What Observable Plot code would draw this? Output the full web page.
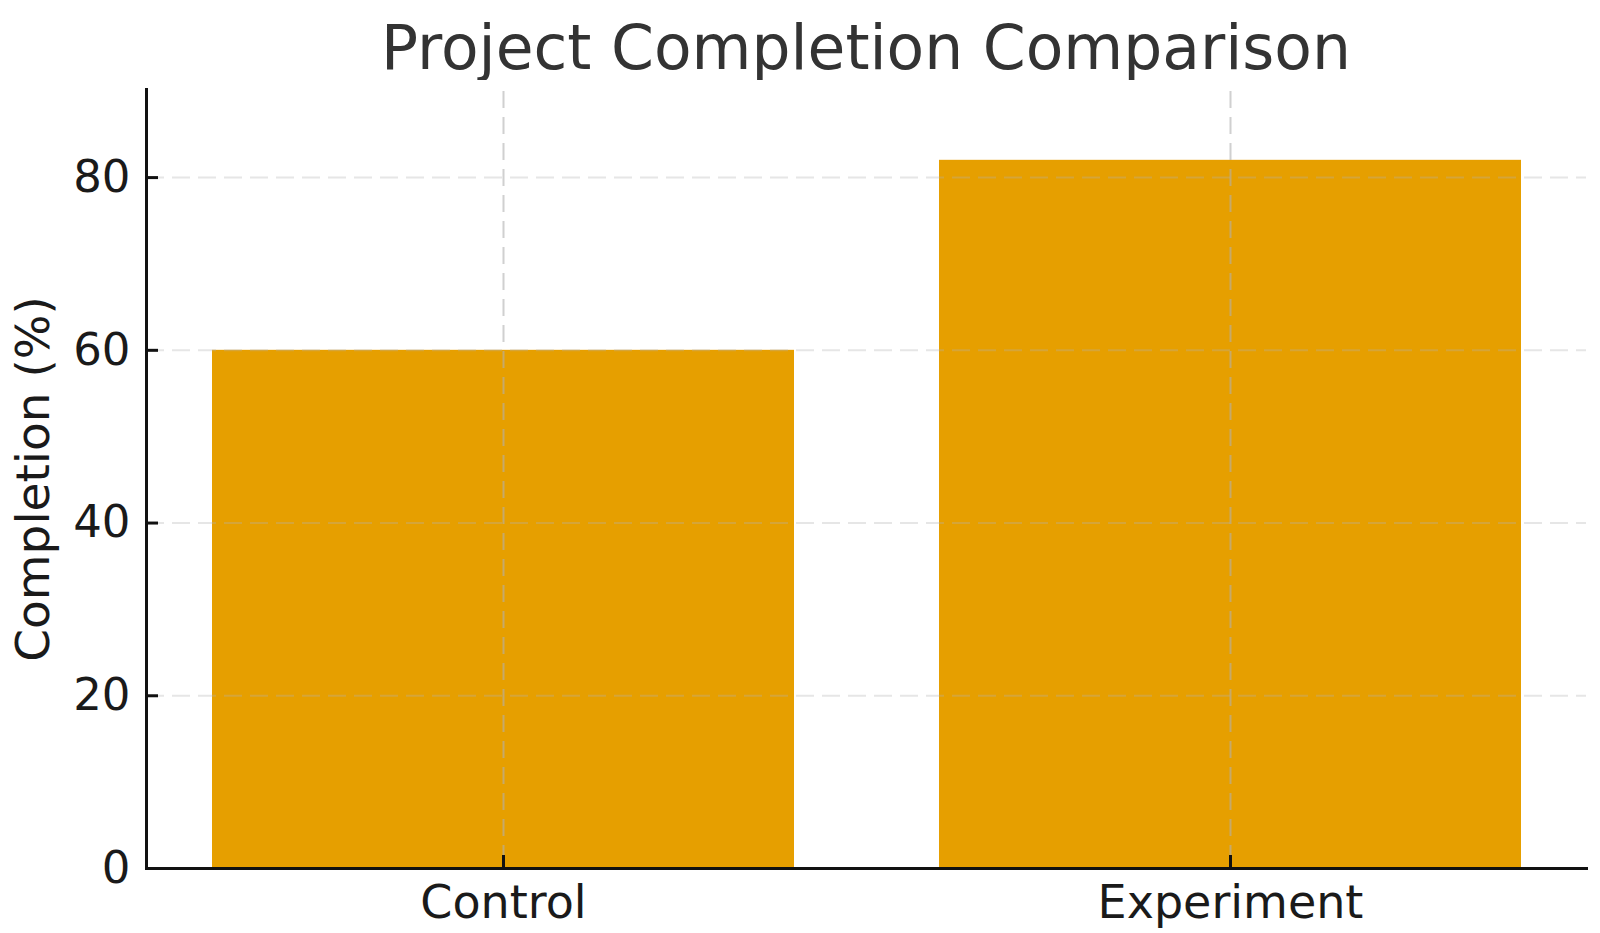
<!DOCTYPE html>
<html>
<head>
<meta charset="utf-8">
<script src="https://cdn.jsdelivr.net/npm/d3@7"></script>
<script src="https://cdn.jsdelivr.net/npm/@observablehq/plot@0.6"></script>
<style>
  html, body { margin: 0; padding: 0; background: #fff; }
  #wrap { position: relative; width: 1600px; height: 933px; overflow: hidden; }
  #title { position: absolute; left: 146px; width: 1440px; top: 18px; text-align: center;
           font-family: "DejaVu Sans", sans-serif; font-size: 61.5px; line-height: 61px; color: #333; white-space: nowrap; }
  #chart { position: absolute; left: 0; top: 80px; }
</style>
</head>
<body>
<div id="wrap">
  <div id="title">Project Completion Comparison</div>
  <div id="chart"></div>
</div>
<script>
const categories = ["Control", "Experiment"];
const completion = [60, 82];
const yTicks = [0, 20, 40, 60, 80];
const yLabel = "Completion (%)";
const yMax = 90.2;

const data = categories.map((c, i) => ({group: c, value: completion[i]}));

const W = 1600, H = 853;
const mL = 146, mR = 14, mT = 9, mB = 65;
const frameW = W - mL - mR, frameH = H - mT - mB;

const chart = Plot.plot({
  width: W,
  height: H,
  marginLeft: mL,
  marginRight: mR,
  marginTop: mT,
  marginBottom: mB,
  style: {fontFamily: "DejaVu Sans, sans-serif", background: "#fff", color: "#1a1a1a"},
  x: {domain: categories, paddingInner: 0.2, paddingOuter: 0.09, label: null},
  y: {domain: [0, yMax], label: null},
  marks: [
    Plot.barY(data, {x: "group", y: "value", fill: "#E69F00"}),
    Plot.ruleY(yTicks.filter(d => d > 0), {stroke: "#b0b0b0", strokeOpacity: 0.32, strokeWidth: 2, strokeDasharray: "18,8"}),
    Plot.ruleX(categories, {x: d => d, stroke: "#b0b0b0", strokeOpacity: 0.6, strokeWidth: 2, strokeDasharray: "17,9", strokeDashoffset: -2}),
    Plot.axisY({ticks: yTicks, tickSize: 0, tickPadding: 16, fontSize: 45, label: null, fill: "#1a1a1a"}),
    Plot.axisX({tickSize: 0, tickPadding: 17, fontSize: 46, label: null, fill: "#1a1a1a"}),
    Plot.tickY(yTicks, {y: d => d, insetRight: frameW - 12, stroke: "#111", strokeWidth: 3}),
    Plot.tickX(categories, {x: d => d, insetTop: frameH - 13, stroke: "#111", strokeWidth: 3}),
    Plot.frame({anchor: "left", stroke: "#111", strokeWidth: 3}),
    Plot.frame({anchor: "bottom", stroke: "#111", strokeWidth: 3}),
    Plot.text([yLabel], {text: d => d, frameAnchor: "left", dx: -113, rotate: -90, textAnchor: "middle", lineAnchor: "middle", fontSize: 47, fill: "#1a1a1a"})
  ]
});
document.getElementById("chart").appendChild(chart);
</script>
</body>
</html>
